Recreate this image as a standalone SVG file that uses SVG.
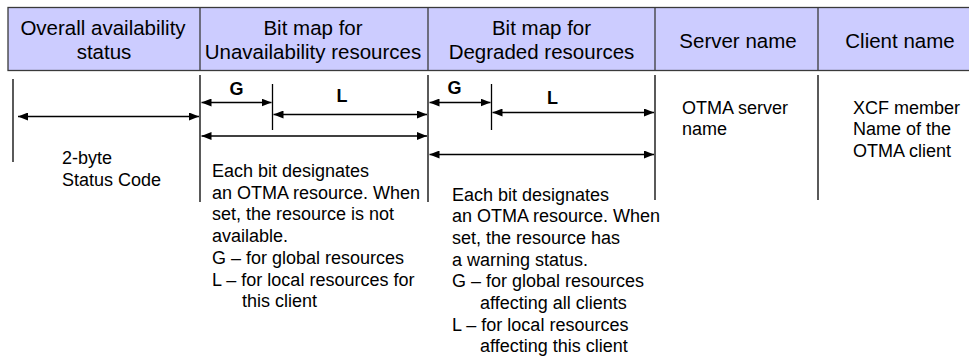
<svg xmlns="http://www.w3.org/2000/svg" width="969" height="358" viewBox="0 0 969 358">
<style>
text{font-family:"Liberation Sans",Arial,sans-serif;fill:#000}
.h{font-size:20.5px;text-anchor:middle}
.b{font-size:18px}
.lbl{font-size:18px;font-weight:bold;text-anchor:middle}
.ln{stroke:#000;stroke-width:1.3;fill:none}
.arr{stroke:#000;stroke-width:1.3;fill:none;marker-start:url(#ah);marker-end:url(#ah)}
.hdr{fill:#CCCCFF;stroke:#3a3a3a;stroke-width:1.3}
</style>
<defs>
<marker id="ah" viewBox="0 0 10 8" refX="10" refY="4" markerWidth="10" markerHeight="8" markerUnits="userSpaceOnUse" orient="auto-start-reverse">
<path d="M0,0 L10,4 L0,8 Z" fill="#000"/>
</marker>
</defs>
<g id="header">
<rect class="hdr" x="8" y="7.5" width="975" height="63"/>
<line class="hdr" x1="200" y1="7.5" x2="200" y2="70.5"/>
<line class="hdr" x1="428" y1="7.5" x2="428" y2="70.5"/>
<line class="hdr" x1="655" y1="7.5" x2="655" y2="70.5"/>
<line class="hdr" x1="818" y1="7.5" x2="818" y2="70.5"/>
</g>
<g id="col-overall">
<text class="h" x="103" y="34.5">Overall availability</text>
<text class="h" x="104" y="58.5">status</text>
<text class="b" x="62" y="163.5">2-byte</text>
<text class="b" x="62" y="186">Status Code</text>
</g>
<g id="col-unavail">
<text class="h" x="313" y="34.5">Bit map for</text>
<text class="h" x="313" y="58.5">Unavailability resources</text>
<text class="lbl" x="236.5" y="94.5">G</text>
<text class="lbl" x="342" y="101.5">L</text>
<text class="b" x="212" y="177">Each bit designates</text>
<text class="b" x="212" y="198.7">an OTMA resource. When</text>
<text class="b" x="212" y="220.4">set, the resource is not</text>
<text class="b" x="212" y="242.1">available.</text>
<text class="b" x="212" y="263.8">G – for global resources</text>
<text class="b" x="212" y="285.5">L – for local resources for</text>
<text class="b" x="242" y="307.2">this client</text>
</g>
<g id="col-degraded">
<text class="h" x="541.5" y="34.5">Bit map for</text>
<text class="h" x="541.5" y="58.5">Degraded resources</text>
<text class="lbl" x="454.5" y="94">G</text>
<text class="lbl" x="552.5" y="104">L</text>
<text class="b" x="452" y="200.5">Each bit designates</text>
<text class="b" x="452" y="222.2">an OTMA resource. When</text>
<text class="b" x="452" y="243.9">set, the resource has</text>
<text class="b" x="452" y="265.6">a warning status.</text>
<text class="b" x="452" y="287.3">G – for global resources</text>
<text class="b" x="480" y="309">affecting all clients</text>
<text class="b" x="452" y="330.7">L – for local resources</text>
<text class="b" x="480" y="352.4">affecting this client</text>
</g>
<g id="col-server">
<text class="h" x="738" y="47.5">Server name</text>
<text class="b" x="682" y="113.5">OTMA server</text>
<text class="b" x="682" y="135">name</text>
</g>
<g id="col-client">
<text class="h" x="900" y="47.5">Client name</text>
<text class="b" x="853" y="113.5">XCF member</text>
<text class="b" x="853" y="135.2">Name of the</text>
<text class="b" x="853" y="156.9">OTMA client</text>
</g>
<g id="connectors">
<line class="ln" x1="13" y1="79" x2="13" y2="162"/>
<line class="ln" x1="200" y1="75" x2="200" y2="202"/>
<line class="ln" x1="428" y1="75" x2="428" y2="202"/>
<line class="ln" x1="655" y1="75" x2="655" y2="200"/>
<line class="ln" x1="818" y1="75" x2="818" y2="200"/>
<line class="ln" x1="272.5" y1="84" x2="272.5" y2="130"/>
<line class="ln" x1="491.5" y1="84" x2="491.5" y2="130"/>
<line class="arr" x1="18" y1="116.5" x2="199" y2="116.5"/>
<line class="arr" x1="201.5" y1="102.5" x2="271.5" y2="102.5"/>
<line class="arr" x1="273.5" y1="114.5" x2="427" y2="114.5"/>
<line class="arr" x1="201.5" y1="136" x2="427" y2="136"/>
<line class="arr" x1="429.5" y1="102.5" x2="490.5" y2="102.5"/>
<line class="arr" x1="492.5" y1="112.5" x2="654" y2="112.5"/>
<line class="arr" x1="429.5" y1="154.5" x2="654" y2="154.5"/>
</g>
</svg>
